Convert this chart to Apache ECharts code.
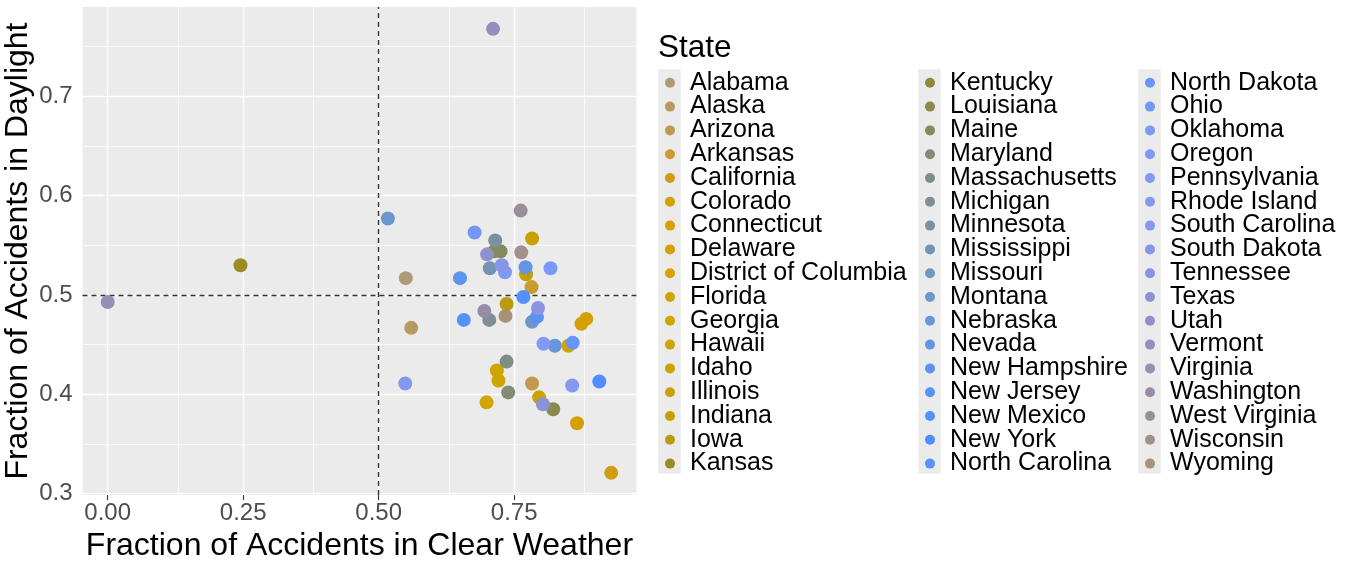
<!DOCTYPE html>
<html>
<head>
<meta charset="utf-8">
<script src="https://cdn.jsdelivr.net/npm/echarts@6/dist/echarts.min.js"></script>
<style>
html,body{margin:0;padding:0;background:#fff;}
#c{width:1352px;height:567px;}
</style>
</head>
<body>
<div id="c"></div>
<script>
// ---- data ----
const states = ["Alabama","Alaska","Arizona","Arkansas","California","Colorado","Connecticut","Delaware","District of Columbia","Florida","Georgia","Hawaii","Idaho","Illinois","Indiana","Iowa","Kansas",
"Kentucky","Louisiana","Maine","Maryland","Massachusetts","Michigan","Minnesota","Mississippi","Missouri","Montana","Nebraska","Nevada","New Hampshire","New Jersey","New Mexico","New York","North Carolina",
"North Dakota","Ohio","Oklahoma","Oregon","Pennsylvania","Rhode Island","South Carolina","South Dakota","Tennessee","Texas","Utah","Vermont","Virginia","Washington","West Virginia","Wisconsin","Wyoming"];
const clearFrac = [0.550,0.560,0.783,0.782,0.929,0.866,0.883,0.874,0.850,0.699,0.718,0.721,0.796,0.783,0.772,0.736,0.245,
0.713,0.822,0.725,0.739,0.736,0.704,0.715,0.705,0.783,0.517,0.825,0.771,0.650,0.792,0.767,0.907,0.657,
0.858,0.677,0.817,0.733,0.804,0.857,0.549,0.727,0.794,0.803,0.700,0.711,0.000,0.695,0.762,0.763,0.734];
const dayFrac = [0.517,0.467,0.411,0.508,0.321,0.371,0.476,0.471,0.449,0.392,0.424,0.414,0.397,0.557,0.521,0.491,0.530,
0.544,0.385,0.544,0.402,0.433,0.475,0.555,0.527,0.473,0.577,0.449,0.528,0.517,0.478,0.498,0.413,0.475,
0.452,0.563,0.527,0.523,0.451,0.409,0.411,0.530,0.487,0.390,0.541,0.768,0.493,0.484,0.585,0.543,0.479];
const xTicks = [0, 0.25, 0.5, 0.75];
const xMinor = [0.125, 0.375, 0.625, 0.875];
const yTicks = [0.3, 0.4, 0.5, 0.6, 0.7];
const yMinor = [0.35, 0.45, 0.55, 0.65, 0.75];
const refX = 0.5, refY = 0.5;

// ---- styles ----
const palette = ["#B09A78","#B89A60","#C09A4C","#C99C30","#D09C12","#D3A000","#D4A100","#D4A200","#D3A300","#D2A400","#D0A400","#CEA400","#CBA400","#C8A300","#C2A000","#B89C10","#998C22",
"#8F8A38","#8A8A4C","#858A60","#818C72","#7E8E84","#7B8F94","#7892A4","#7494B4","#7096C2","#6C96CE","#6896DA","#6495E4","#5E94EE","#5892F6","#5290FC","#4E8EFF","#5A90FA",
"#6A94F8","#7397F8","#7A99F8","#7E99F6","#8299F6","#8498F2","#8697EE","#8896E8","#8A94E0","#8C92D6","#8E91CC","#918FC0","#948FB4","#978DA8","#9B8D9C","#A28F8A","#A89275"];
const FONT = "Liberation Sans, Arial, sans-serif";

const series = states.map((s, i) => ({
  type: 'scatter', name: s, data: [[clearFrac[i], dayFrac[i]]],
  symbolSize: 14, z: 5, itemStyle: { color: palette[i], opacity: 1 },
  emphasis: { disabled: true }
}));

const noLbl = { show: false };
function lines(vals, key, width) {
  return vals.map(v => ({ [key]: v, lineStyle: { width: width } }));
}
series.unshift({
  type: 'scatter', name: '_ref', data: [], z: 3, silent: true,
  markLine: {
    z: 3, silent: true, symbol: ['none', 'none'], label: noLbl, animation: false,
    lineStyle: { color: '#333333', type: [5, 4], width: 1.4 },
    emphasis: { disabled: true },
    data: [{ xAxis: refX }, { yAxis: refY }]
  }
});
series.unshift({
  type: 'scatter', name: '_grid', data: [], z: 1, silent: true,
  markLine: {
    z: 1, silent: true, symbol: ['none', 'none'], label: noLbl, animation: false,
    lineStyle: { color: '#FFFFFF', type: 'solid' },
    emphasis: { disabled: true },
    data: [].concat(lines(xMinor, 'xAxis', 0.7), lines(yMinor, 'yAxis', 0.7),
                    lines(xTicks, 'xAxis', 1.4), lines(yTicks, 'yAxis', 1.4))
  }
});

function legendCol(names, left) {
  return {
    orient: 'vertical', left: left, top: 65.3, itemGap: -1.2,
    itemWidth: 30, itemHeight: 10, icon: 'circle', selectedMode: false,
    data: names,
    textStyle: { fontFamily: FONT, fontSize: 25, color: '#000' }
  };
}

const chart = echarts.init(document.getElementById('c'), null, { renderer: 'canvas' });
chart.setOption({
  animation: false,
  backgroundColor: '#FFFFFF',
  title: { text: 'State', left: 658, top: 32, padding: 0, textStyle: { fontFamily: FONT, fontSize: 31.5, fontWeight: 'normal', color: '#000' } },
  grid: { left: 82.5, right: 1352 - 636.4, top: 7, bottom: 567 - 496, show: true, backgroundColor: '#EBEBEB', borderWidth: 0 },
  xAxis: {
    type: 'value', min: -0.0465, max: 0.9755,
    name: 'Fraction of Accidents in Clear Weather', nameLocation: 'middle', nameGap: 32,
    nameTextStyle: { fontFamily: FONT, fontSize: 32, color: '#000' },
    axisLine: { show: false }, splitLine: { show: false },
    axisTick: { show: true, customValues: xTicks, length: 5, lineStyle: { color: '#333333', width: 1.1 } },
    axisLabel: { customValues: xTicks, formatter: v => v.toFixed(2), fontFamily: FONT, fontSize: 24, color: '#4D4D4D', margin: 6 }
  },
  yAxis: {
    type: 'value', min: 0.2986, max: 0.790,
    name: 'Fraction of Accidents in Daylight', nameLocation: 'middle', nameGap: 48,
    nameTextStyle: { fontFamily: FONT, fontSize: 32, color: '#000' },
    axisLine: { show: false }, splitLine: { show: false },
    axisTick: { show: true, customValues: yTicks, length: 5, lineStyle: { color: '#333333', width: 1.1 } },
    axisLabel: { customValues: yTicks, formatter: v => v.toFixed(1), fontFamily: FONT, fontSize: 24, color: '#4D4D4D', margin: 10 }
  },
  legend: [
    legendCol(states.slice(0, 17), 660),
    legendCol(states.slice(17, 34), 920),
    legendCol(states.slice(34, 51), 1140)
  ],
  graphic: [0, 1, 2].map(k => ({
    type: 'rect', z: -1, silent: true,
    shape: { x: [658.3, 918.3, 1138.3][k], y: 69, width: 22.4, height: 404.6 },
    style: { fill: '#EBEBEB' }
  })),
  series: series
});
</script>
</body>
</html>
